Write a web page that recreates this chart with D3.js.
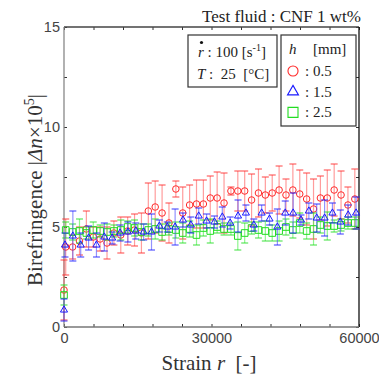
<!DOCTYPE html>
<html>
<head>
<meta charset="utf-8">
<script src="https://cdn.jsdelivr.net/npm/d3@7"></script>
<style>
  body { margin: 0; background: #fff; }
  svg { display: block; }
  .serif { font-family: "Liberation Serif", "Times New Roman", serif; white-space: pre; }
  .tick text { font-family: "Liberation Sans", Arial, sans-serif; font-size: 14.5px; fill: #444; }
</style>
</head>
<body>
<svg id="canvas" width="379" height="380"></svg>
<script>
// ---- data ----
var strainA = [0, 350, 1750, 3150, 4550, 5950, 7350, 8750, 10150, 11550, 12950, 14350, 15750, 17150, 18550,
  19950, 21350, 22750, 24150, 25550, 26950, 28350, 29750, 31150, 32550, 33950, 35350, 36750, 38150, 39550,
  40950, 42350, 43750, 45150, 46550, 47950, 49350, 50750, 52150, 53550, 54950, 56350, 57750, 59150];
var strainB = [0, 200, 1800, 3400, 5000, 6600, 8200, 9800, 11400, 13000, 14600, 16200, 17800, 19400, 21000,
  22600, 24200, 25800, 27400, 29000, 30600, 32200, 33800, 35400, 37000, 38600, 40200, 41800, 43400, 45000,
  46600, 48200, 49800, 51400, 53000, 54600, 56200, 57800, 59400];

var h05 = [1.85, 4.0, 4.0, 4.3, 4.9, 4.5, 4.4, 4.2, 4.7, 4.6, 4.8, 4.85, 4.7, 5.8, 6.0, 5.7, 5.2, 6.9, 5.7, 6.1,
  6.15, 6.15, 6.45, 6.45, 6.2, 6.8, 6.8, 6.8, 6.35, 6.7, 6.6, 6.7, 6.85, 6.6, 6.85, 6.65, 6.4, 5.9, 6.45, 6.45,
  6.85, 6.6, 6.1, 6.4];
var h05err = [1.5, 1.4, 0.6, 0.7, 0.9, 0.5, 0.6, 0.8, 0.6, 0.9, 0.7, 0.8, 1.0, 1.4, 1.3, 1.4, 1.0, 0.4, 1.3, 1.0,
  1.2, 1.2, 1.1, 1.3, 1.5, 0.2, 1.0, 1.0, 1.3, 1.2, 0.9, 0.9, 1.2, 0.8, 1.3, 1.2, 1.3, 1.5, 1.1, 1.4,
  1.3, 1.2, 0.9, 1.5];

var h15 = [0.85, 4.1, 4.55, 4.1, 4.45, 4.1, 4.5, 4.45, 4.7, 4.75, 4.8, 4.75, 4.75, 5.05, 5.0, 5.0, 5.35, 5.1, 5.55,
  5.3, 5.25, 5.5, 5.2, 5.55, 5.7, 5.1, 5.7, 5.4, 5.0, 5.7, 5.7, 5.35, 5.8, 5.45, 5.45, 5.7, 5.25, 5.6, 5.7];
var h15err = [0.55, 0.6, 1.25, 0.6, 0.6, 0.6, 0.7, 0.3, 0.4, 0.5, 0.4, 0.4, 0.9, 0.3, 0.25, 0.9, 0.35, 0.4, 0.4,
  0.35, 0.3, 0.5, 0.3, 0.8, 0.4, 0.3, 0.4, 0.3, 0.9, 0.6, 1.0, 0.25, 0.4, 0.7, 0.9, 0.5, 0.6, 0.5, 0.8];

var h25 = [1.6, 4.85, 4.75, 4.8, 4.7, 4.85, 4.8, 4.75, 4.8, 4.85, 5.0, 4.95, 4.75, 4.85, 4.9, 4.75, 4.9, 4.85, 4.7,
  4.9, 4.6, 4.95, 4.8, 5.0, 4.9, 4.9, 4.55, 4.7, 4.95, 4.85, 4.8, 4.7, 4.8, 5.0, 4.85, 5.2, 4.8, 4.9, 5.1, 5.05,
  5.05, 5.1, 5.2, 5.2];
var h25err = [0.5, 0.4, 0.4, 0.6, 0.3, 0.4, 0.3, 0.4, 0.3, 0.5, 0.3, 0.4, 0.4, 0.3, 0.5, 0.4, 0.3, 0.4, 0.5, 0.4,
  0.5, 0.4, 0.6, 0.3, 0.3, 0.3, 0.7, 0.5, 0.3, 0.4, 0.5, 0.4, 0.5, 0.4, 0.4, 0.5, 0.4, 0.8, 0.4, 0.7,
  0.3, 0.3, 0.3, 0.3];

var legendLabels = [': 0.5', ': 1.5', ': 2.5'];
var xTickLabels = [0, 30000, 60000];
var yTickLabels = [0, 5, 10, 15];

// ---- layout ----
var svg = d3.select('#canvas');
var plotL = 64, plotR = 359, plotT = 27, plotB = 327;

var xScale = d3.scaleLinear().domain([0, 60000]).range([plotL, plotR]);
var yScale = d3.scaleLinear().domain([0, 15]).range([plotB, plotT]);

function frameLine(x1, y1, x2, y2, col) {
  svg.append('line').attr('x1', x1).attr('y1', y1).attr('x2', x2).attr('y2', y2)
    .attr('stroke', col).attr('stroke-width', 1.3);
}

// axes (ticks inward)
var xMinor = d3.range(0, 60001, 6000);
var yMinor = d3.range(0, 15.01, 2.5);

var xAxis = svg.append('g').attr('transform', 'translate(0,' + plotB + ')')
  .call(d3.axisBottom(xScale).tickValues(xMinor).tickSize(-3).tickSizeOuter(0).tickPadding(6)
    .tickFormat(function(d) { return xTickLabels.indexOf(d) >= 0 ? d : ''; }));
var xAxisTop = svg.append('g').attr('transform', 'translate(0,' + plotT + ')')
  .call(d3.axisTop(xScale).tickValues(xMinor).tickSize(-3).tickSizeOuter(0).tickFormat(''));
var yAxis = svg.append('g').attr('transform', 'translate(' + plotL + ',0)')
  .call(d3.axisLeft(yScale).tickValues(yMinor).tickSize(-3).tickSizeOuter(0).tickPadding(4)
    .tickFormat(function(d) { return yTickLabels.indexOf(d) >= 0 ? d : ''; }));
var yAxisRight = svg.append('g').attr('transform', 'translate(' + plotR + ',0)')
  .call(d3.axisRight(yScale).tickValues(yMinor).tickSize(-3).tickSizeOuter(0).tickFormat(''));

[xAxis, xAxisTop, yAxis, yAxisRight].forEach(function(a) {
  a.select('.domain').remove();
  a.selectAll('.tick line').attr('stroke', '#333');
});

frameLine(plotL, plotT, plotR, plotT, '#444');
frameLine(plotR, plotT, plotR, plotB, '#111');
frameLine(plotL, plotT, plotL, plotB, '#888');
frameLine(plotL, plotB, plotR, plotB, '#777');

// ---- series ----
var series = [
  { x: strainA, y: h05, e: h05err, col: '#ff2a2a', bar: '#ff5a5a', sym: d3.symbolCircle, size: 34 },
  { x: strainA, y: h25, e: h25err, col: '#22dd22', bar: '#44ee44', sym: d3.symbolSquare, size: 44 },
  { x: strainB, y: h15, e: h15err, col: '#1a1aff', bar: '#4a4aff', sym: d3.symbolTriangle, size: 22 }
];

var plot = svg.append('g');
series.forEach(function(s) {
  var g = plot.append('g');
  var pts = s.x.map(function(d, i) { return { x: d, y: s.y[i], e: s.e[i] }; });
  var cap = 3.5;
  pts.forEach(function(p) {
    var cx = xScale(p.x), y1 = yScale(p.y + p.e), y2 = yScale(p.y - p.e);
    g.append('line').attr('x1', cx).attr('x2', cx).attr('y1', y1).attr('y2', y2)
      .attr('stroke', s.bar).attr('stroke-width', 1.2).attr('stroke-opacity', 0.6);
    [y1, y2].forEach(function(yy) {
      g.append('line').attr('x1', cx - cap).attr('x2', cx + cap).attr('y1', yy).attr('y2', yy)
        .attr('stroke', s.col).attr('stroke-width', 1.1).attr('stroke-opacity', 0.8);
    });
  });
  g.selectAll('path.m').data(pts).enter().append('path')
    .attr('class', 'm')
    .attr('d', d3.symbol().type(s.sym).size(s.size))
    .attr('transform', function(p) { return 'translate(' + xScale(p.x) + ',' + yScale(p.y) + ')'; })
    .attr('fill', 'none').attr('stroke', s.col).attr('stroke-width', 1);
});

// ---- titles ----
svg.append('text').attr('class', 'serif').attr('x', 361).attr('y', 22)
  .attr('text-anchor', 'end').attr('font-size', 17).attr('fill', '#222')
  .text('Test fluid : CNF 1 wt%');

var xt = svg.append('text').attr('class', 'serif').attr('x', 209).attr('y', 370)
  .attr('text-anchor', 'middle').attr('font-size', 21).attr('fill', '#333');
xt.append('tspan').text('Strain ');
xt.append('tspan').attr('font-style', 'italic').text('r');
xt.append('tspan').text('  [-]');

var yt = svg.append('text').attr('class', 'serif')
  .attr('transform', 'translate(42,190) rotate(-90)')
  .attr('text-anchor', 'middle').attr('font-size', 21).attr('fill', '#333');
yt.append('tspan').text('Birefringence |');
yt.append('tspan').attr('font-style', 'italic').text('Δn');
yt.append('tspan').text('×10');
yt.append('tspan').attr('font-size', 14).attr('dy', -8).text('5');
yt.append('tspan').attr('dy', 8).text('|');

// ---- legend box 1 ----
svg.append('rect').attr('x', 188).attr('y', 35).attr('width', 89).attr('height', 52)
  .attr('fill', '#fff').attr('stroke', '#333').attr('stroke-width', 1.2);
var t1 = svg.append('text').attr('class', 'serif').attr('x', 198).attr('y', 57)
  .attr('font-size', 15).attr('fill', '#222');
t1.append('tspan').attr('font-style', 'italic').text('r');
t1.append('tspan').text(' : 100 [s');
t1.append('tspan').attr('font-size', 10).attr('dy', -6).text('-1');
t1.append('tspan').attr('dy', 6).text(']');
svg.append('circle').attr('cx', 201.5).attr('cy', 42.5).attr('r', 1.6).attr('fill', '#111');
var t2 = svg.append('text').attr('class', 'serif').attr('x', 197).attr('y', 79)
  .attr('font-size', 15).attr('fill', '#222');
t2.append('tspan').attr('font-style', 'italic').text('T');
t2.append('tspan').text(' :  25  [°C]');

// ---- legend box 2 ----
svg.append('rect').attr('x', 281).attr('y', 35).attr('width', 75).attr('height', 91)
  .attr('fill', '#fff').attr('stroke', '#333').attr('stroke-width', 1.2);
svg.append('text').attr('class', 'serif').attr('x', 289).attr('y', 54)
  .attr('font-size', 15).attr('font-style', 'italic').attr('fill', '#222').text('h');
svg.append('text').attr('class', 'serif').attr('x', 313).attr('y', 54)
  .attr('font-size', 15).attr('fill', '#222').text('[mm]');

var legendSeries = [series[0], series[2], series[1]];
var legendSize = [80, 52, 100];
legendLabels.forEach(function(lab, i) {
  var cy = 71 + i * 20.7;
  svg.append('path').attr('d', d3.symbol().type(legendSeries[i].sym).size(legendSize[i]))
    .attr('transform', 'translate(293,' + cy + ')')
    .attr('fill', 'none').attr('stroke', legendSeries[i].col).attr('stroke-width', 1.1);
  svg.append('text').attr('class', 'serif').attr('x', 305).attr('y', cy + 5)
    .attr('font-size', 15).attr('fill', '#222').text(lab);
});
</script>
</body>
</html>
